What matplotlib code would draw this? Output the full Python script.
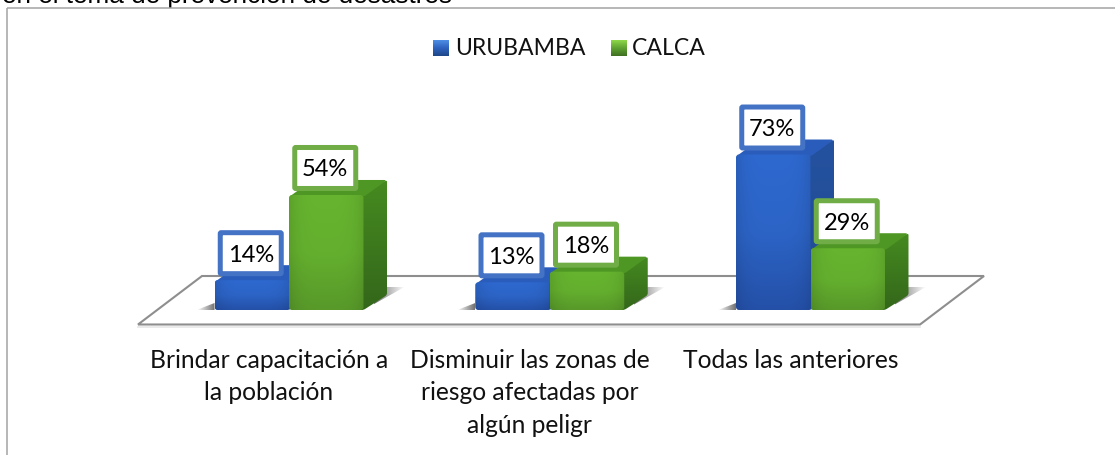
import numpy as np
import matplotlib
matplotlib.use("Agg")
import matplotlib.pyplot as plt
from matplotlib.patches import Polygon, PathPatch
from matplotlib.path import Path
from matplotlib.colors import LinearSegmentedColormap

categories = ["Brindar capacitación a\nla población",
              "Disminuir las zonas de\nriesgo afectadas por\nalgún peligr",
              "Todas las anteriores"]
series_names = ["URUBAMBA", "CALCA"]
urubamba = [14, 13, 73]
calca = [54, 18, 29]
title_fragment = "en el tema de prevención de desastres"

W, H = 1115, 455
plt.rcParams["font.family"] = ["Lato", "DejaVu Sans"]
fig = plt.figure(figsize=(W / 100, H / 100), dpi=100, facecolor="white")
ax = fig.add_axes([0, 0, 1, 1])
SX, SY = 260.75, 2.13          # px per category, px per percent
X0, Y0 = 289.0, 310.0          # px position of category 0 / value 0
xlim = ((0 - X0) / SX, (W - X0) / SX)
ylim = ((Y0 - H) / SY, (Y0 - 0) / SY)
ax.axis("off")

BW = 74.5 / SX
DX, DY = 23.5 / SX, 15 / SY
def xd(p): return (p - X0) / SX
def yd(p): return (Y0 - p) / SY

def rounded(points, r=3.0):
    """closed polygon with rounded corners; r in px"""
    pts = np.array(points, float)
    verts, codes = [], []
    n = len(pts)
    for i in range(n):
        p, a, b = pts[i], pts[i - 1], pts[(i + 1) % n]
        def step(q):
            d = (q - p) * [SX, SY]
            L = np.hypot(*d)
            return p + (q - p) * min(r / L, 0.5)
        s, e = step(a), step(b)
        verts += [s, p, e]
        codes += [Path.MOVETO if i == 0 else Path.LINETO, Path.CURVE3, Path.CURVE3]
    verts.append(verts[0]); codes.append(Path.CLOSEPOLY)
    return Path(np.array(verts), codes)

def gradient(path, extent, stops, z, horiz=None):
    cm = LinearSegmentedColormap.from_list("g", stops)
    ys = np.linspace(0, 1, 128)[:, None]
    rgb = cm(ys)[:, :, :3] * np.ones((128, 64, 3))
    if horiz is not None:
        xs = np.linspace(-1, 1, 64)
        rgb = rgb * (1 - horiz * np.abs(xs) ** 4)[None, :, None]
    im = ax.imshow(rgb, extent=extent, origin="upper", aspect="auto", zorder=z, interpolation="bilinear")
    patch = PathPatch(path, transform=ax.transData, fc="none", ec="none")
    ax.add_patch(patch)
    im.set_clip_path(patch)

def shadow(poly, extent, rev, z):
    a = np.linspace(0.8, 0, 64)
    if rev:
        a = a[::-1]
    rgba = np.zeros((4, 64, 4))
    rgba[:, :, :3] = 0.3
    rgba[:, :, 3] = a
    im = ax.imshow(rgba, extent=extent, origin="upper", aspect="auto", zorder=z, interpolation="bilinear")
    patch = Polygon(poly, closed=True, transform=ax.transData, fc="none", ec="none")
    ax.add_patch(patch)
    im.set_clip_path(patch)

STY = {
    "blue": dict(front=["#2E69D0", "#2C64C6", "#2450A8"], side=["#25529F", "#1F4A92"],
                 top="#2A5DBB"),
    "green": dict(front=["#66B42F", "#64B02E", "#58992A"], side=["#468B20", "#33661A"],
                  top="#4E9724"),
}

def bar(x0, v, c, z):
    s = STY[c]
    x1 = x0 + BW
    gradient(rounded([(x1 - 4 / SX, 0), (x1, 0), (x1 + DX, DY), (x1 + DX, v + DY), (x1 - 4 / SX, v)], 2),
             (x1 - .03, x1 + DX + .01, -1, v + DY + 1), s["side"], z)
    ax.add_patch(PathPatch(rounded([(x0, v - 2 / SY), (x0 + DX, v + DY), (x1 + DX, v + DY), (x1, v - 2 / SY)], 3),
                           fc=s["top"], ec="none", zorder=z))
    gradient(rounded([(x0, 0), (x0, v), (x1, v), (x1, 0)], 3),
             (x0, x1, 0, v), s["front"], z + 0.1, horiz=0.1)

# floor
floor_px = [(138, 324.5), (202, 276), (984, 276), (920, 324.5)]
ax.add_patch(Polygon([(xd(a), yd(b)) for a, b in floor_px], closed=True,
                     fc="white", ec="#8E8E8E", lw=1.5, zorder=1, joinstyle="miter"))
ax.plot([xd(138), xd(920)], [yd(326.5)] * 2, color="#E6E6E6", lw=1.2, zorder=0.9)

# bars
for i, (u, c) in enumerate(zip(urubamba, calca)):
    left, mid, right = i - BW, i, i + BW
    shadow([(left, 0), (left - 18 / SX, 0), (left, 7 / SY)],
           (left - 18 / SX, left, 0, 8 / SY), True, 2)
    shadow([(right, 0), (right + 41 / SX, 23 / SY), (right + DX, 23 / SY)],
           (right + 10 / SX, right + 41 / SX, 0, 23 / SY), False, 2)
    bar(left, u, "blue", 3)
    bar(mid, c, "green", 4)

# data labels
def label(x, v, color):
    cx = x + BW / 2 - 1 / SX
    cy = v + 27 / SY
    w, h = 61 / SX, 41 / SY
    ax.add_patch(PathPatch(rounded([(cx - w / 2, cy - h / 2), (cx - w / 2, cy + h / 2),
                                    (cx + w / 2, cy + h / 2), (cx + w / 2, cy - h / 2)], 1),
                           fc="white", ec=color, lw=3.6, zorder=6))
    ax.text(cx, cy - 2 / SY, f"{v}%", ha="center", va="center", fontsize=17, color="black", zorder=7)

for i, (u, c) in enumerate(zip(urubamba, calca)):
    label(i - BW, u, "#4472C4")
    label(i, c, "#70AD47")

# category labels
for i, cat in enumerate(categories):
    ax.text(i - 20 / SX, yd(349), cat, ha="center", va="top", fontsize=17.7,
            color="#111111", linespacing=1.5, zorder=6)

# legend
leg = [(433, 455, series_names[0], ["#4F8FE6", "#2D62BE", "#1F4788"]),
       (611, 632, series_names[1], ["#8FD84A", "#5FA232", "#3F7022"])]
for bx, tx, name, st in leg:
    gradient(Path([(xd(bx), yd(40)), (xd(bx), yd(56)), (xd(bx + 16), yd(56)), (xd(bx + 16), yd(40)), (xd(bx), yd(40))]),
             (xd(bx), xd(bx + 16), yd(56), yd(40)), st, 6)
    ax.text(xd(tx), yd(48.5), name, ha="left", va="center", fontsize=16.6, color="#111111", zorder=7)

# outer frame and clipped text above it
ax.plot([xd(6.5), xd(6.5)], [yd(H + 2), yd(7.5)], color="#A3A3A3", lw=1.1, zorder=8, solid_capstyle="butt")
ax.plot([xd(6.5), xd(W + 2)], [yd(7.5), yd(7.5)], color="#A3A3A3", lw=1.1, zorder=8, solid_capstyle="butt")
ax.text(xd(452), yd(3), title_fragment, ha="right", va="baseline", fontsize=18.8,
        family=["Liberation Sans"], color="black", zorder=7)

ax.set_xlim(*xlim)
ax.set_ylim(*ylim)
fig.savefig("out.png", dpi=100, facecolor="white")
